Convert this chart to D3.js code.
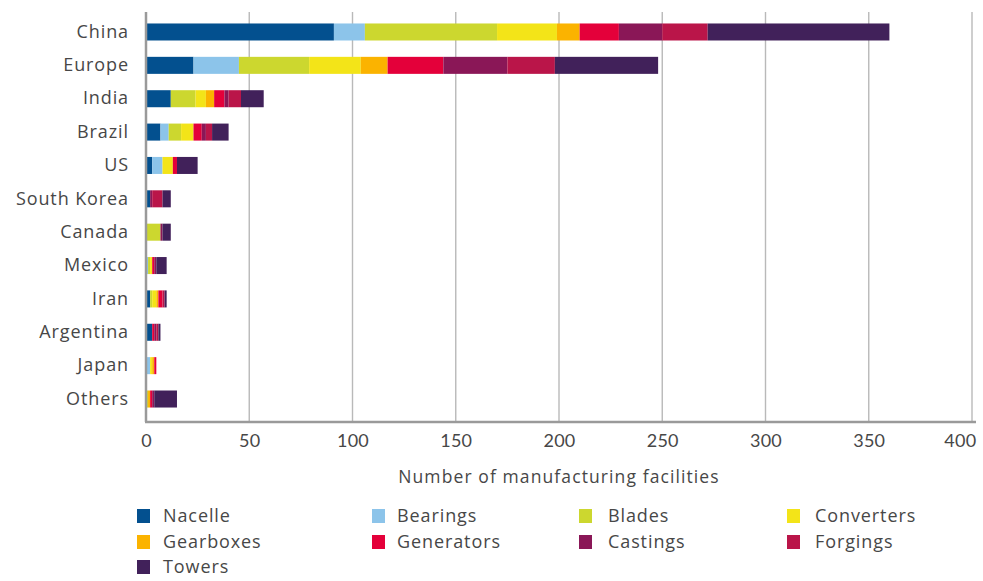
<!DOCTYPE html>
<html>
<head>
<meta charset="utf-8">
<script src="https://cdn.jsdelivr.net/npm/d3@7"></script>
<style>
  html, body { margin: 0; padding: 0; background: #fff; }
  svg { display: block; font-family: "Open Sans", "Noto Sans", sans-serif; }
</style>
</head>
<body>
<svg id="chart" width="983" height="581"></svg>
<script>
// Wind manufacturing facilities by region and component
const regions = ["China", "Europe", "India", "Brazil", "US", "South Korea", "Canada",
                 "Mexico", "Iran", "Argentina", "Japan", "Others"];
const components = ["Nacelle", "Bearings", "Blades", "Converters", "Gearboxes",
                    "Generators", "Castings", "Forgings", "Towers"];
const colors = ["#03508f", "#8cc4ea", "#ccd72f", "#f3e418", "#fbb300",
                "#e4003a", "#8a1757", "#ba1549", "#41215a"];

// Facility counts per component, one value per region (same order as regions)
const nacelle    = [91, 23, 12, 7, 3, 2, 0, 0, 2, 3, 0, 0];
const bearings   = [15, 22, 0, 4, 5, 0, 0, 1, 0, 0, 2, 0];
const blades     = [64, 34, 12, 6, 0, 0, 7, 1, 1, 0, 0, 1];
const converters = [29, 25, 5, 6, 5, 0, 0, 1, 2, 0, 1, 0];
const gearboxes  = [11, 13, 4, 0, 0, 0, 0, 0, 1, 0, 1, 1];
const generators = [19, 27, 5, 4, 2, 0, 0, 1, 2, 1, 1, 1];
const castings   = [21, 31, 2, 2, 0, 1, 1, 1, 0, 1, 0, 1];
const forgings   = [22, 23, 6, 3, 0, 5, 0, 0, 1, 1, 0, 0];
const towers     = [88, 50, 11, 8, 10, 4, 4, 5, 1, 1, 0, 11];
const xTicks = [0, 50, 100, 150, 200, 250, 300, 350, 400];

const seriesValues = [nacelle, bearings, blades, converters, gearboxes,
                      generators, castings, forgings, towers];

const rows = regions.map((r, i) => {
  const row = { region: r };
  components.forEach((c, j) => { row[c] = seriesValues[j][i]; });
  return row;
});

const textColor = "#474747";
const svg = d3.select("#chart");
const plot = { left: 146, right: 972, top: 12, bottom: 422 };

const x = d3.scaleLinear().domain([0, 400]).range([plot.left, plot.right]);
const y = d3.scaleBand().domain(regions).range([15.3, 415.7])
  .paddingInner(0.49).paddingOuter(0.245);

// Vertical gridlines
svg.append("g")
  .selectAll("line")
  .data(xTicks.filter(d => d > 0))
  .join("line")
  .attr("x1", d => x(d)).attr("x2", d => x(d))
  .attr("y1", plot.top).attr("y2", plot.bottom)
  .attr("stroke", "#b9b9b9").attr("stroke-width", 1.4);

// Stacked bars
const stack = d3.stack().keys(components)(rows);
svg.append("g")
  .selectAll("g")
  .data(stack)
  .join("g")
  .attr("fill", (d, i) => colors[i])
  .selectAll("rect")
  .data(d => d)
  .join("rect")
  .attr("x", d => x(d[0]))
  .attr("width", d => Math.max(0, x(d[1]) - x(d[0])))
  .attr("y", d => y(d.data.region))
  .attr("height", y.bandwidth());

// Axis lines
svg.append("line")
  .attr("x1", x(0)).attr("x2", x(0))
  .attr("y1", plot.top).attr("y2", plot.bottom)
  .attr("stroke", "#9a9a9a").attr("stroke-width", 2.5);
svg.append("line")
  .attr("x1", x(0) - 1).attr("x2", plot.right + 4)
  .attr("y1", plot.bottom).attr("y2", plot.bottom)
  .attr("stroke", "#9a9a9a").attr("stroke-width", 2.5);

// X tick labels
const xAxis = d3.axisBottom(x).tickValues(xTicks).tickSize(0).tickPadding(10);
const gx = svg.append("g").attr("transform", `translate(0,${plot.bottom + 2})`).call(xAxis);
gx.select(".domain").remove();
gx.selectAll("text")
  .attr("font-size", 18).attr("fill", textColor)
  .attr("font-family", "Lato, 'Noto Sans', sans-serif")
  .attr("letter-spacing", 0.3);
// keep the last label inside the frame
gx.selectAll(".tick").filter(d => d === 400).select("text")
  .attr("text-anchor", "end").attr("dx", 4);

// Y category labels
const yAxis = d3.axisLeft(y).tickSize(0).tickPadding(17);
const gy = svg.append("g").attr("transform", `translate(${plot.left},0)`).call(yAxis);
gy.select(".domain").remove();
gy.selectAll("text")
  .attr("font-size", 18).attr("fill", textColor)
  .attr("font-family", "'Open Sans', 'Noto Sans', sans-serif")
  .attr("letter-spacing", 0.9);

// Axis title
svg.append("text")
  .attr("x", (plot.left + plot.right) / 2)
  .attr("y", 483)
  .attr("text-anchor", "middle")
  .attr("font-size", 17.5)
  .attr("letter-spacing", 1.1)
  .attr("fill", textColor)
  .text("Number of manufacturing facilities");

// Legend
const legendCols = [137, 372, 579, 787];
const legendTextX = [26, 25, 29, 28];
const legendRows = [516, 542, 567];
const legend = svg.append("g")
  .selectAll("g")
  .data(components)
  .join("g")
  .attr("transform", (d, i) => `translate(${legendCols[i % 4]},${legendRows[Math.floor(i / 4)]})`);
legend.append("rect")
  .attr("x", 0).attr("y", -7).attr("width", 13).attr("height", 14)
  .attr("fill", (d, i) => colors[i]);
legend.append("text")
  .attr("x", (d, i) => legendTextX[i % 4]).attr("y", 6)
  .attr("font-size", 18).attr("letter-spacing", 0.9).attr("fill", textColor)
  .text(d => d);
</script>
</body>
</html>
